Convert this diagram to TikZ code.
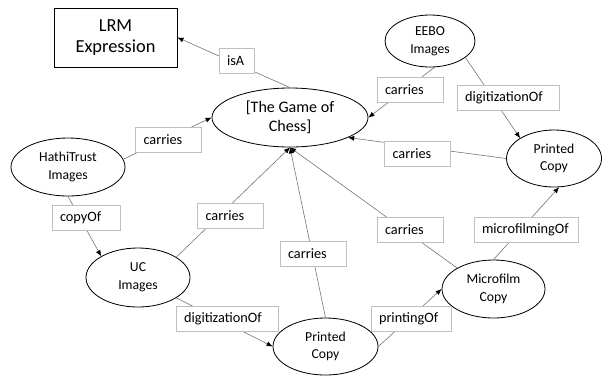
\documentclass[tikz,border=0pt]{standalone}
\usepackage{fontspec}
\setmainfont{Carlito}
\usetikzlibrary{shapes,arrows.meta,positioning}

\begin{document}
\begin{tikzpicture}[x=0.3mm, y=-0.3mm]
		\tikzstyle{Class}	= [rectangle, draw, line width=0.8pt, align=center, inner sep=0pt, font=\fontsize{15.7}{18.5}\selectfont]
		\tikzstyle{Entity}	= [ellipse, draw, line width=0.7pt, align=center, inner sep=0pt, font=\fontsize{11.7}{15}\selectfont]
		\tikzstyle{Work}	= [font=\fontsize{13.7}{16.2}\selectfont]
		\tikzstyle{Prop}	= [draw=black!25, fill=white, align=left, text width=#1, inner xsep=2.4mm, inner ysep=0pt, minimum height=7.5mm, font=\fontsize{12.2}{14}\selectfont]
		\tikzstyle{Rel}		= [draw=black!55, line width=0.5pt, -{Latex[length=1.8mm, width=1.5mm, black]}]

		\useasboundingbox (0, 0) rectangle (602, 375);

		\node (v1) at (115.5, 37.5) [Class, minimum width=36.9mm, minimum height=17.7mm] {LRM\\Expression};
		\node (v2) at (290, 117.5) [Entity][Work, minimum width=46.8mm, minimum height=17.7mm] {[The Game of\\Chess]};
		\node (v3) at (68, 167) [Entity, minimum width=34.2mm, minimum height=17.4mm] {HathiTrust\\Images};
		\node (v4) at (430, 41) [Entity, minimum width=27mm, minimum height=15.6mm] {EEBO\\Images};
		\node (v5) at (554, 158.5) [Entity, minimum width=28.5mm, minimum height=17.1mm] {Printed\\Copy};
		\node (v6) at (138, 277.5) [Entity, minimum width=31.2mm, minimum height=17.7mm] {UC\\Images};
		\node (v7) at (325.5, 346.5) [Entity, minimum width=31.5mm, minimum height=17.1mm] {Printed\\Copy};
		\node (v8) at (493.5, 289) [Entity, minimum width=30.9mm, minimum height=17.4mm] {Microfilm\\Copy};

		\draw [Rel] (v2.north) to (v1.east);
		\draw [Rel] (v3.8) to (v2.west);
		\draw [Rel] (v4.-80) to (v2.east);
		\draw [Rel] (v4.-25) to (v5.149);
		\draw [Rel] (v5.west) to (v2.-19);
		\draw [Rel] (v3.south) to (v6.150);
		\draw [Rel] (v6.28) to (v2.south);
		\draw [Rel] (v6.-28) to (v7.west);
		\draw [Rel] (v7.north) to (v2.south);
		\draw [Rel] (v8.150) to (v2.south);
		\draw [Rel] (v7.east) to (v8.west);
		\draw [Rel] (v8.north) to (v5.-80);

		\node (e1) at (236.5, 60.5) [Prop=5.7mm] {isA};
		\node (e2) at (168.5, 139.5) [Prop=15mm] {carries};
		\node (e3) at (410, 90) [Prop=15mm] {carries};
		\node (e4) at (508, 97.5) [Prop=25.8mm] {digitizationOf};
		\node (e5) at (417.5, 154) [Prop=15mm] {carries};
		\node (e6) at (86, 217.5) [Prop=15.6mm] {copyOf};
		\node (e7) at (230.5, 215.5) [Prop=15mm] {carries};
		\node (e8) at (227, 319) [Prop=25.8mm] {digitizationOf};
		\node (e9) at (313, 254) [Prop=15mm] {carries};
		\node (e10) at (410, 229.5) [Prop=15mm] {carries};
		\node (e11) at (526, 229.5) [Prop=26.4mm] {microfilmingOf};
		\node (e12) at (411, 318.5) [Prop=19.2mm] {printingOf};
\end{tikzpicture}
\end{document}
